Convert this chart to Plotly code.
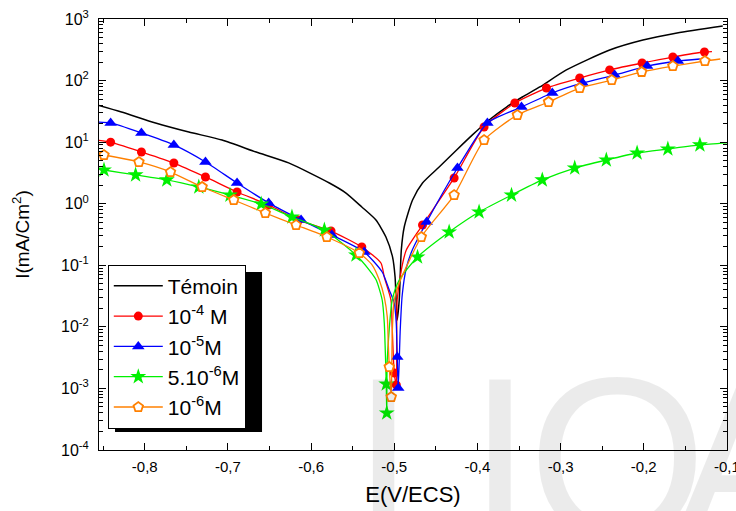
import plotly.graph_objects as go

# Potential E (V/ECS) and current density I (mA/cm2)
temoin_E = [-0.857, -0.828, -0.787, -0.747, -0.707, -0.666, -0.627, -0.578, -0.558, -0.539,
            -0.522, -0.510, -0.502, -0.499, -0.4965, -0.494, -0.4915, -0.488, -0.478, -0.466,
            -0.446, -0.425, -0.406, -0.386, -0.365, -0.346, -0.325, -0.293, -0.241, -0.201,
            -0.160, -0.105]
temoin_I = [40.1, 30.9, 20.5, 14.6, 10.8, 6.9, 4.6, 2.17, 1.49, 0.885,
            0.543, 0.288, 0.136, 0.0646, 0.0129, 0.0273, 0.177, 0.419, 1.15, 2.17,
            3.94, 7.45, 13.1, 22.9, 37.2, 54.1, 78.7, 149, 314, 456,
            593, 770]

red_E = [-0.857, -0.841, -0.804, -0.765, -0.727, -0.689, -0.651, -0.615, -0.576, -0.539,
         -0.516, -0.512, -0.504, -0.5025, -0.500, -0.4975, -0.4965, -0.4915, -0.4855, -0.466,
         -0.428, -0.392, -0.355, -0.317, -0.277, -0.241, -0.202, -0.165, -0.127, -0.118]
red_I = [10.8, 10.0, 6.92, 4.58, 2.72, 1.55, 0.953, 0.543, 0.360, 0.198,
         0.109, 0.0645, 0.0273, 0.00995, 0.00178, 0.00114, 0.0273, 0.0838, 0.177, 0.451,
         2.62, 17.6, 43.2, 75.7, 110, 149, 193, 241, 291, 295]
red_marks = [1, 2, 3, 4, 5, 6, 7, 8, 9, 14, 15, 19, 20, 21, 22, 23, 24, 25, 26, 27, 28]

blue_E = [-0.857, -0.841, -0.804, -0.765, -0.727, -0.689, -0.651, -0.612, -0.575, -0.536,
          -0.5145, -0.506, -0.500, -0.4976, -0.4964, -0.4952, -0.4928, -0.4904, -0.4855, -0.4783,
          -0.461, -0.424, -0.388, -0.347, -0.310, -0.2735, -0.235, -0.196, -0.159, -0.1325]
blue_I = [21.2, 20.5, 14.1, 9.0, 4.76, 2.17, 1.03, 0.543, 0.310, 0.164,
          0.0778, 0.0397, 0.0244, 0.0116, 0.00324, 0.00102, 0.0089, 0.0329, 0.0904, 0.177,
          0.505, 3.80, 20.5, 37.2, 62.8, 91.4, 123, 172, 208, 224]
blue_marks = [1, 2, 3, 4, 5, 6, 7, 8, 9, 14, 15, 20, 21, 22, 23, 24, 25, 26, 27, 28]

green_E = [-0.857, -0.849, -0.811, -0.7735, -0.735, -0.6975, -0.660, -0.623, -0.584, -0.546,
           -0.530, -0.5217, -0.5145, -0.512, -0.5108, -0.5096, -0.509, -0.5084, -0.5024, -0.494,
           -0.472, -0.434, -0.398, -0.359, -0.322, -0.283, -0.245, -0.208, -0.171, -0.1325,
           -0.100]
green_I = [3.66, 3.53, 2.93, 2.43, 1.87, 1.38, 0.99, 0.608, 0.374, 0.147,
           0.0837, 0.0577, 0.0273, 0.0116, 0.00421, 0.00118, 0.000399, 0.0029, 0.0273, 0.0577,
           0.136, 0.347, 0.733, 1.38, 2.43, 3.80, 5.13, 6.66, 7.74, 9.0,
           9.7]
green_marks = [1, 2, 3, 4, 5, 6, 7, 8, 9, 15, 16, 20, 21, 22, 23, 24, 25, 26, 27, 28, 29]

orange_E = [-0.857, -0.849, -0.807, -0.769, -0.731, -0.693, -0.655, -0.618, -0.581, -0.542,
            -0.5265, -0.518, -0.512, -0.5084, -0.5072, -0.506, -0.5036, -0.5024, -0.500, -0.494,
            -0.4675, -0.428, -0.392, -0.352, -0.3145, -0.277, -0.2385, -0.2025, -0.165, -0.1265,
            -0.108]
orange_I = [6.42, 6.18, 4.76, 3.27, 1.87, 1.15, 0.706, 0.451, 0.288, 0.158,
            0.101, 0.0577, 0.0305, 0.0145, 0.00547, 0.00223, 0.000726, 0.00794, 0.0273, 0.0515,
            0.288, 1.38, 10.8, 27.6, 44.9, 75.7, 102, 138, 172, 208,
            224]
orange_marks = [1, 2, 3, 4, 5, 6, 7, 8, 9, 15, 16, 20, 21, 22, 23, 24, 25, 26, 27, 28, 29]

x_ticks = [-0.8, -0.7, -0.6, -0.5, -0.4, -0.3, -0.2, -0.1]
x_labels = ['-0,8', '-0,7', '-0,6', '-0,5', '-0,4', '-0,3', '-0,2', '-0,1']
y_ticks = [1e-4, 1e-3, 1e-2, 1e-1, 1e0, 1e1, 1e2, 1e3]
y_labels = ['10<sup>-4</sup>', '10<sup>-3</sup>', '10<sup>-2</sup>', '10<sup>-1</sup>',
            '10<sup>0</sup>', '10<sup>1</sup>', '10<sup>2</sup>', '10<sup>3</sup>']

FONT = 'Liberation Sans, Arial, sans-serif'

fig = go.Figure()

# Témoin: plain black line
fig.add_trace(go.Scatter(x=temoin_E, y=temoin_I, mode='lines', name='Témoin',
                         line=dict(color='black', width=1.5, shape='spline', smoothing=0.6)))

series = [
    ('10<sup>-4</sup> M', red_E, red_I, red_marks, '#ff0000',
     dict(symbol='circle', size=9, color='#ff0000')),
    ('10<sup>-5</sup>M', blue_E, blue_I, blue_marks, '#0000ff',
     dict(symbol='triangle-up', size=11, color='#0000ff')),
    ('5.10<sup>-6</sup>M', green_E, green_I, green_marks, '#00f000',
     dict(symbol='star', size=12, color='#00f000')),
    ('10<sup>-6</sup>M', orange_E, orange_I, orange_marks, '#ff8000',
     dict(symbol='pentagon', size=10, color='white', line=dict(color='#ff8000', width=1.8))),
]

for name, xs, ys, marks, col, mk in series:
    fig.add_trace(go.Scatter(x=xs, y=ys, mode='lines', showlegend=False, legendgroup=name,
                             line=dict(color=col, width=1.3, shape='spline', smoothing=0.6)))
    fig.add_trace(go.Scatter(x=[xs[i] for i in marks], y=[ys[i] for i in marks],
                             mode='markers', marker=mk, showlegend=False, legendgroup=name))
    # legend entry only
    fig.add_trace(go.Scatter(x=[None], y=[None], mode='lines+markers', name=name,
                             line=dict(color=col, width=1.3), marker=mk, legendgroup=name))

# legend drop shadow
fig.add_shape(type='rect', xref='paper', yref='paper', x0=0.0255, x1=0.2596, y0=0.042, y1=0.413,
              fillcolor='black', line=dict(width=0), layer='above')

# faint watermark letters, mostly cut off by the bottom edge
for letter, lx in [('L', 0.508), ('I', 0.638), ('O', 0.826), ('A', 1.038)]:
    fig.add_annotation(text=letter, xref='paper', yref='paper', x=lx, y=0.283,
                       xanchor='center', yanchor='top', showarrow=False,
                       font=dict(family=FONT, size=230, color='rgba(0,0,0,0.08)'))

fig.update_layout(
    width=736, height=511,
    margin=dict(l=99, r=9, t=19, b=61),
    paper_bgcolor='white', plot_bgcolor='white',
    font=dict(family=FONT, color='black'),
    showlegend=True,
    legend=dict(x=0.014, y=0.43, xanchor='left', yanchor='top',
                bgcolor='white', bordercolor='black', borderwidth=1, itemwidth=49,
                font=dict(size=21, family=FONT), tracegroupgap=0),
    xaxis=dict(range=[-0.855, -0.0999], tickmode='array', tickvals=x_ticks, ticktext=x_labels,
               ticks='inside', ticklen=7, tickcolor='black', showline=True, linecolor='black',
               linewidth=1, mirror='ticks', showgrid=False, zeroline=False, automargin=False,
               tickfont=dict(size=15), ticklabelstandoff=3, ticklabeloverflow='allow',
               minor=dict(ticks='inside', ticklen=4, dtick=0.05, tick0=0, tickcolor='black'),
               title=dict(text='E(V/ECS)', font=dict(size=22), standoff=12)),
    yaxis=dict(type='log', range=[-4, 3], tickmode='array', tickvals=y_ticks, ticktext=y_labels,
               ticks='inside', ticklen=7, tickcolor='black', showline=True, linecolor='black',
               linewidth=1, mirror='ticks', showgrid=False, zeroline=False, automargin=False,
               tickfont=dict(size=16), ticklabelstandoff=6, ticklabeloverflow='allow',
               minor=dict(ticks='inside', ticklen=4, dtick='D1', tickcolor='black'),
               title=dict(text='I(mA/Cm<sup>2</sup>)', font=dict(size=19), standoff=26)),
)

fig.write_html("out.html", config={'displayModeBar': False},
               post_script="document.body.style.margin = '0';")
